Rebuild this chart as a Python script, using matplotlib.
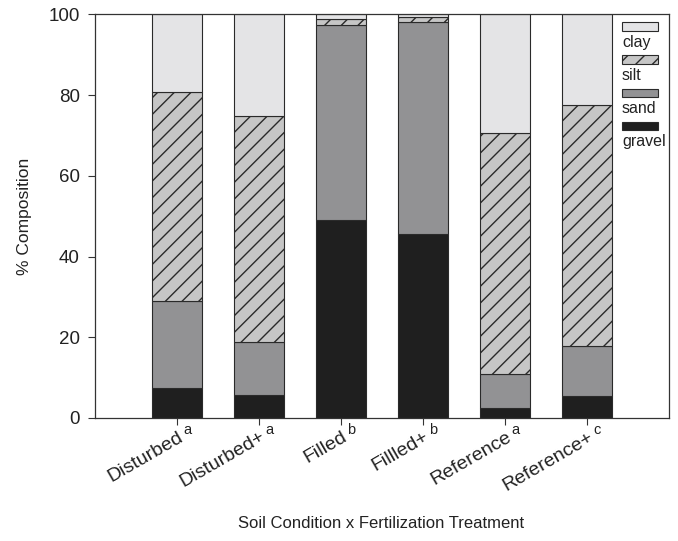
import matplotlib
matplotlib.use("Agg")
import matplotlib.pyplot as plt
import matplotlib.transforms as mtrans
from matplotlib.patches import Rectangle
import numpy as np

plt.rcParams['font.family'] = ['Liberation Sans', 'DejaVu Sans']
plt.rcParams['hatch.linewidth'] = 1.0
plt.rcParams['hatch.color'] = '#111111'

categories = ["Disturbed", "Disturbed+", "Filled", "Fillled+", "Reference", "Reference+"]
letters = ["a", "a", "b", "b", "a", "c"]
gravel = [7.4, 5.8, 49.0, 45.6, 2.4, 5.5]
sand = [21.6, 13.0, 48.5, 52.5, 8.5, 12.4]
silt = [51.7, 56.0, 1.5, 1.4, 59.8, 59.6]
clay = [19.3, 25.2, 1.0, 0.5, 29.3, 22.5]

colors = {"gravel": "#1f1f1f", "sand": "#929294", "silt": "#c6c6c6", "clay": "#e4e4e6"}
edge = "#2a2a2a"

fig = plt.figure(figsize=(6.78, 5.41), dpi=100)
ax = fig.add_axes([0.1401, 0.2274, 0.8466, 0.7458])

x = np.arange(len(categories))
w = 0.61
b1 = np.array(gravel)
b2 = b1 + np.array(sand)
b3 = b2 + np.array(silt)
ax.bar(x, gravel, w, color=colors["gravel"], edgecolor=edge, linewidth=0.8)
ax.bar(x, sand, w, bottom=b1, color=colors["sand"], edgecolor=edge, linewidth=0.8)
ax.bar(x, silt, w, bottom=b2, color=colors["silt"], edgecolor=edge, linewidth=0.8, hatch='//')
ax.bar(x, clay, w, bottom=b3, color=colors["clay"], edgecolor=edge, linewidth=0.8)

ax.set_xlim(-1, 6)
ax.set_ylim(0, 100)
ax.set_yticks([0, 20, 40, 60, 80, 100])
ax.set_xticks(x)
ax.set_xticklabels(categories, rotation=30, ha='right', va='top', rotation_mode='anchor')
ax.tick_params(axis='both', direction='out', length=5, width=0.8, color='#333333',
               labelcolor='#222222')
ax.tick_params(axis='y', labelsize=13.5, pad=6)
ax.tick_params(axis='x', labelsize=14, pad=2.5)
for s in ax.spines.values():
    s.set_linewidth(0.9)
    s.set_color('#333333')

# shift rotated labels slightly so their end sits just below-left of the superscript
off = mtrans.ScaledTranslation(0.5 / 72, 0, fig.dpi_scale_trans)
for lab in ax.get_xticklabels():
    lab.set_transform(lab.get_transform() + off)

for xi, l in zip(x, letters):
    ax.annotate(l, xy=(xi, 0), xycoords=('data', 'axes fraction'),
                xytext=(4.5, -9), textcoords='offset points', fontsize=10.5,
                color='#222222', ha='left', va='center')

ax.set_ylabel("% Composition", fontsize=12.5, color='#222222', labelpad=12)
fig.text(0.562, 0.033, "Soil Condition x Fertilization Treatment", fontsize=12,
         color='#222222', ha='center', va='center')

# legend (patch above label)
leg_items = [("clay", colors["clay"], None), ("silt", colors["silt"], '//'),
             ("sand", colors["sand"], None), ("gravel", colors["gravel"], None)]
px0 = 622 / 678
pw = 36 / 678
ph = 8.5 / 541
for i, (name, c, h) in enumerate(leg_items):
    ytop = 22 + i * 33.3
    r = Rectangle((px0, 1 - (ytop + ph * 541) / 541), pw, ph, transform=fig.transFigure,
                  facecolor=c, edgecolor=edge, linewidth=0.8, hatch=h)
    fig.patches.append(r)
    fig.text(px0, 1 - (ytop + 20) / 541, name, fontsize=11.5, color='#222222',
             ha='left', va='center')

fig.savefig("out.png", dpi=100)
